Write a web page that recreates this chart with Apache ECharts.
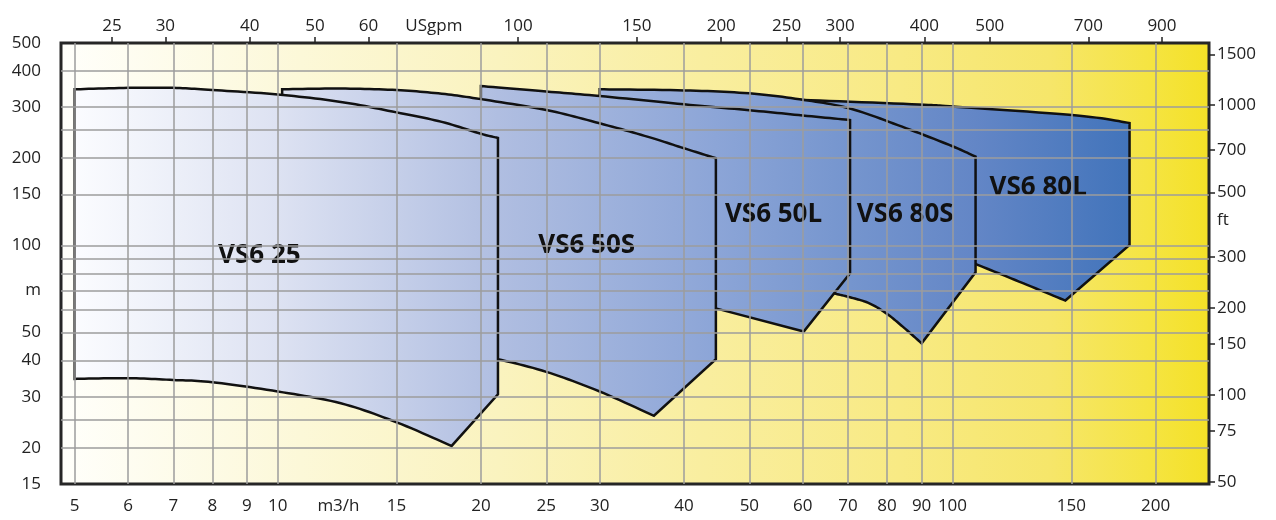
<!DOCTYPE html>
<html><head><meta charset="utf-8">
<script src="https://cdn.jsdelivr.net/npm/echarts@6/dist/echarts.min.js"></script>
<style>html,body{margin:0;padding:0;background:#fff}#c{width:1276px;height:520px}</style>
</head><body><div id="c"></div>
<script>
// ---- tick / label values ----
const flowTicks = [5, 6, 7, 8, 9, 10, 15, 20, 25, 30, 40, 50, 60, 70, 80, 90, 100, 150, 200];
const gpmTicks = [25, 30, 40, 50, 60, 100, 150, 200, 250, 300, 400, 500, 700, 900];
const headGrid = [20, 25, 30, 40, 50, 60, 70, 80, 90, 100, 150, 200, 250, 300, 400];
const headLabels = [15, 20, 30, 40, 50, 100, 150, 200, 300, 400, 500];
const ftTicks = [50, 75, 100, 150, 200, 300, 500, 700, 1000, 1500];
const unitText = { flow: 'm3/h', gpm: 'USgpm', head: 'm', ft: 'ft' };
const unitAt = { flow: 12.3, gpm: 75, head: 70, ft: 400 };

const FLOW_MIN = 4.772, FLOW_MAX = 240, HEAD_MIN = 15, HEAD_MAX = 500;
const GPM_PER_M3H = 4.4029, FT_PER_M = 3.28084;

// ---- pump envelopes (m3/h, m), drawn bottom to top ----
const pumpNames = ['VS6 80L', 'VS6 80S', 'VS6 50L', 'VS6 50S', 'VS6 25'];
const vs680lFlow = [52, 60.2, 89.1, 101, 153, 183, 183, 147, 125.5, 108.2, 52];
const vs680lHead = [322, 318, 306.7, 301.3, 281, 264.7, 100.4, 64.5, 75, 86.3, 100];
const vs680sFlow = [30, 40, 50, 60.2, 70.5, 84.2, 100, 108.2, 108.2, 90, 84.8, 80, 75.3, 70.5, 66.5, 45, 30];
const vs680sHead = [346, 343, 335, 318, 297, 257, 220, 202.5, 80.8, 45.9, 51.9, 58, 63.1, 66.2, 68.4, 75, 75];
const vs650lFlow = [20, 25, 30, 40, 50, 60, 70.5, 70.5, 60.2, 44.6, 20];
const vs650lHead = [355, 340, 328, 307, 293, 281, 271, 80.1, 50.4, 60.6, 60];
const vs650sFlow = [10.15, 12.4, 15, 17.5, 20, 25, 30, 35.4, 40, 44.6, 44.6, 36.1, 30, 25, 21.3, 10.15];
const vs650sHead = [346, 348, 344, 334, 320, 293.5, 264, 237, 216.5, 200, 40.5, 25.8, 31.3, 36.6, 40.4, 40];
const vs625Flow = [5, 6, 7, 8, 10, 12.4, 15, 17.5, 20, 21.2, 21.2, 18.1, 15, 12.4, 10, 8, 7, 6, 5];
const vs625Head = [346, 350, 350, 344, 332, 313, 288, 267, 243, 235, 30.6, 20.3, 24.5, 28.5, 31.3, 33.7, 34.3, 34.8, 34.6];
const labelFlow = [134, 85.1, 54.3, 28.7, 9.39];
const labelHead = [158, 127.4, 127.4, 99.5, 91.9];

const pumpFlows = [vs680lFlow, vs680sFlow, vs650lFlow, vs650sFlow, vs625Flow];
const pumpHeads = [vs680lHead, vs680sHead, vs650lHead, vs650sHead, vs625Head];
// which outline vertices are sharp corners (others lie on smooth curves)
const pumpCorners = [[0, 5, 6, 7, 9, 10], [0, 7, 8, 9, 14, 15, 16], [0, 6, 7, 8, 9, 10], [0, 9, 10, 11, 14, 15], [0, 9, 10, 11, 18]];

// ---- styles ----
const blueStopFlow = [5, 10, 21.2, 44.6, 70.5, 108.2, 183];
const blueStopColor = ['#fbfcff', '#dde2f2', '#b0bee1', '#8ca5d7', '#7595ce', '#6386c6', '#4274bb'];
const FONT = '"Open Sans", "DejaVu Sans", sans-serif';
const LBL = { fontSize: 17, color: '#222', fontFamily: FONT };
const GRIDLINE = { color: '#9c9c9c', width: 1.5 };

const lg = Math.log10;
function fmt(unitVal, txt) {
  return v => Math.abs(v - lg(unitVal)) < 1e-9 ? txt : String(Math.round(Math.pow(10, v)));
}

// Catmull-Rom through a run of pixel points (ends clamped), returns sampled points
function splineRun(run) {
  const out = [];
  const n = run.length;
  for (let i = 0; i < n - 1; i++) {
    const p0 = run[Math.max(0, i - 1)], p1 = run[i], p2 = run[i + 1], p3 = run[Math.min(n - 1, i + 2)];
    const steps = 12;
    for (let s = 0; s < steps; s++) {
      const t = s / steps, t2 = t * t, t3 = t2 * t;
      const f = (a, b, c, d) => 0.5 * ((2 * b) + (-a + c) * t + (2 * a - 5 * b + 4 * c - d) * t2 + (-a + 3 * b - 3 * c + d) * t3);
      out.push([f(p0[0], p1[0], p2[0], p3[0]), f(p0[1], p1[1], p2[1], p3[1])]);
    }
  }
  return out;
}

function outline(pts, corners) {
  const res = [];
  const n = pts.length;
  for (let k = 0; k < corners.length; k++) {
    const a = corners[k];
    const b = k + 1 < corners.length ? corners[k + 1] : n; // wrap to index 0 (== n)
    const run = [];
    for (let j = a; j <= b; j++) run.push(pts[j % n]);
    if (run.length <= 2) res.push(run[0]);
    else res.push(...splineRun(run));
  }
  return res;
}

function makeSeries(i) {
  const flow = pumpFlows[i], head = pumpHeads[i];
  const data = flow.map((q, k) => [lg(q), lg(head[k])]);
  return {
    type: 'custom', name: pumpNames[i], xAxisIndex: 0, yAxisIndex: 0, z: 2,
    encode: { x: 0, y: 1 }, data,
    renderItem(params, api) {
      if (params.dataIndex !== 0) return null;
      const pts = data.map(d => api.coord(d));
      const sx = blueStopFlow.map(q => api.coord([lg(q), lg(100)])[0]);
      const x0 = sx[0], x1 = sx[sx.length - 1];
      const stops = sx.map((x, k) => ({ offset: (x - x0) / (x1 - x0), color: blueStopColor[k] }));
      const fill = new echarts.graphic.LinearGradient(x0, 0, x1, 0, stops, true);
      const lab = api.coord([lg(labelFlow[i]), lg(labelHead[i])]);
      return {
        type: 'group', children: [
          { type: 'polygon', z2: i * 2, shape: { points: outline(pts, pumpCorners[i]) },
            style: { fill, stroke: '#111', lineWidth: 2.5, lineJoin: 'miter' } },
          { type: 'text', z2: i * 2 + 1,
            style: { text: pumpNames[i], x: lab[0], y: lab[1], align: 'center', verticalAlign: 'middle',
              font: 'bold 26px ' + FONT, fill: '#111' } }
        ]
      };
    }
  };
}

const chart = echarts.init(document.getElementById('c'), null, { renderer: 'canvas' });
const bg = new echarts.graphic.LinearGradient(0, 0, 1, 0, [
  { offset: 0, color: '#fffffb' }, { offset: 0.21, color: '#fcf8d8' }, { offset: 0.38, color: '#faf3bf' },
  { offset: 0.56, color: '#f9ee9f' }, { offset: 0.73, color: '#f8ea84' }, { offset: 0.86, color: '#f6e66a' },
  { offset: 0.95, color: '#f5e440' }, { offset: 1, color: '#f4e126' }
]);

chart.setOption({
  animation: false,
  backgroundColor: '#ffffff',
  grid: { left: 61, top: 43, width: 1148, height: 441, show: true, backgroundColor: bg,
    borderColor: '#262626', borderWidth: 3, containLabel: false, outerBoundsMode: 'none' },
  xAxis: [
    { type: 'value', position: 'bottom', z: 5, min: lg(FLOW_MIN), max: lg(FLOW_MAX),
      axisLine: { show: false },
      axisTick: { show: false, customValues: flowTicks.map(lg) },
      splitLine: { show: true, lineStyle: GRIDLINE },
      axisLabel: Object.assign({ customValues: flowTicks.concat([unitAt.flow]).map(lg),
        formatter: fmt(unitAt.flow, unitText.flow), margin: 14 }, LBL) },
    { type: 'value', position: 'top', z: 5, min: lg(FLOW_MIN * GPM_PER_M3H), max: lg(FLOW_MAX * GPM_PER_M3H),
      axisLine: { show: false },
      axisTick: { show: true, inside: false, length: 6, lineStyle: { color: '#222', width: 1.5 },
        customValues: gpmTicks.map(lg) },
      splitLine: { show: false },
      axisLabel: Object.assign({ customValues: gpmTicks.concat([unitAt.gpm]).map(lg),
        formatter: fmt(unitAt.gpm, unitText.gpm), margin: 8 }, LBL) }
  ],
  yAxis: [
    { type: 'value', position: 'left', z: 5, min: lg(HEAD_MIN), max: lg(HEAD_MAX),
      axisLine: { show: false },
      axisTick: { show: false, customValues: headGrid.map(lg) },
      splitLine: { show: true, lineStyle: GRIDLINE },
      axisLabel: Object.assign({ customValues: headLabels.concat([unitAt.head]).map(lg),
        formatter: fmt(unitAt.head, unitText.head), margin: 20 }, LBL) },
    { type: 'value', position: 'right', z: 5, min: lg(HEAD_MIN * FT_PER_M), max: lg(HEAD_MAX * FT_PER_M),
      axisLine: { show: false },
      axisTick: { show: true, inside: false, length: 6, lineStyle: { color: '#222', width: 1.5 },
        customValues: ftTicks.map(lg) },
      splitLine: { show: false },
      axisLabel: Object.assign({ customValues: ftTicks.concat([unitAt.ft]).map(lg),
        formatter: fmt(unitAt.ft, unitText.ft), margin: 8 }, LBL) }
  ],
  series: pumpNames.map((_, i) => makeSeries(i))
});
</script>
</body></html>
